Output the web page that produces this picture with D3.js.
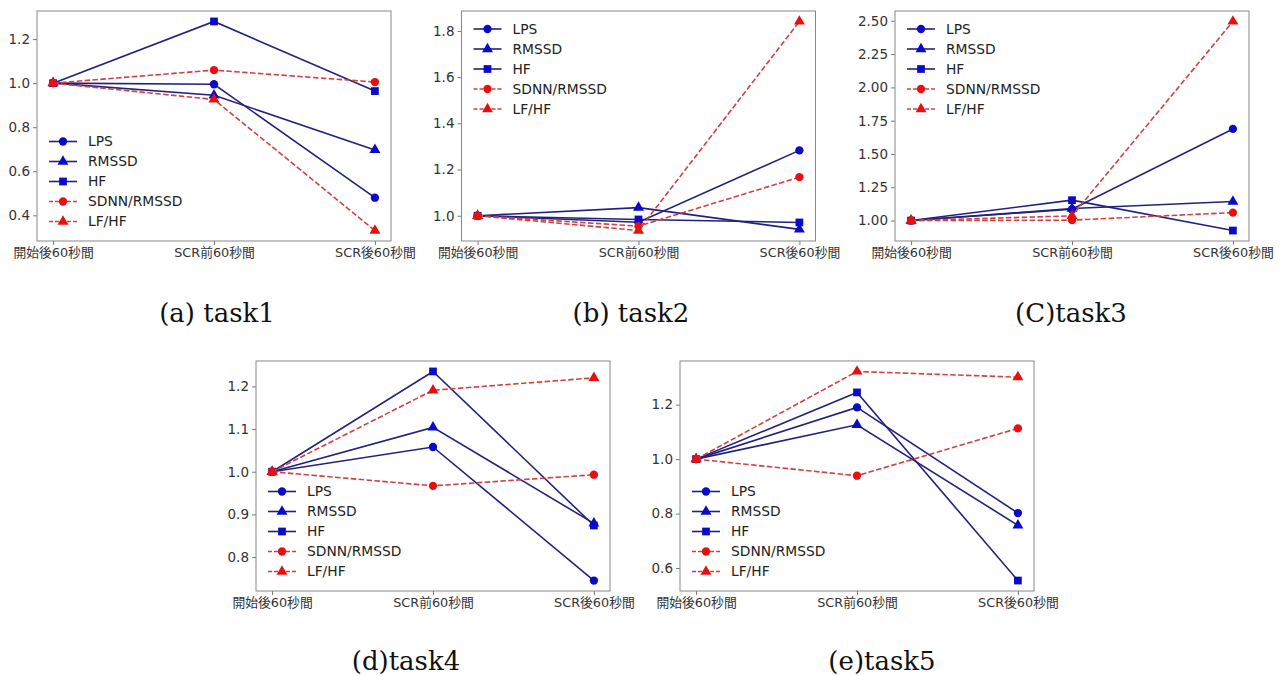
<!DOCTYPE html>
<html>
<head>
<meta charset="utf-8">
<script src="https://cdn.jsdelivr.net/npm/d3@7"></script>
<style>
body { margin: 0; background: #fff; }
</style>
</head>
<body>
<div id="chart"></div>
<script>
var categories = ['開始後60秒間', 'SCR前60秒間', 'SCR後60秒間'];
var seriesNames = ['LPS', 'RMSSD', 'HF', 'SDNN/RMSSD', 'LF/HF'];

// one row per series, same order as seriesNames
var task1 = [
	[1.0, 0.995, 0.48],
	[1.0, 0.945, 0.697],
	[1.0, 1.28, 0.964],
	[1.0, 1.059, 1.005],
	[1.0, 0.926, 0.331]
];
var task2 = [
	[1.0, 0.972, 1.283],
	[1.0, 1.035, 0.941],
	[1.0, 0.984, 0.971],
	[1.0, 0.955, 1.167],
	[1.0, 0.936, 1.841]
];
var task3 = [
	[1.0, 1.085, 1.688],
	[1.0, 1.09, 1.143],
	[1.0, 1.153, 0.925],
	[1.0, 1.003, 1.06],
	[1.0, 1.035, 2.495]
];
var task4 = [
	[1.0, 1.058, 0.745],
	[1.0, 1.104, 0.879],
	[1.0, 1.235, 0.874],
	[1.0, 0.967, 0.993],
	[1.0, 1.191, 1.22]
];
var task5 = [
	[1.0, 1.19, 0.802],
	[1.0, 1.126, 0.757],
	[1.0, 1.245, 0.554],
	[1.0, 0.939, 1.113],
	[1.0, 1.322, 1.301]
];

var task1Ticks = [0.4, 0.6, 0.8, 1.0, 1.2];
var task2Ticks = [1.0, 1.2, 1.4, 1.6, 1.8];
var task3Ticks = [1.0, 1.25, 1.5, 1.75, 2.0, 2.25, 2.5];
var task4Ticks = [0.8, 0.9, 1.0, 1.1, 1.2];
var task5Ticks = [0.6, 0.8, 1.0, 1.2];

var captions = ['(a) task1', '(b) task2', '(C)task3', '(d)task4', '(e)task5'];

var blueLine = '#22227e';
var blueMark = '#0a0ac8';
var redLine = '#d24040';
var redMark = '#e80f0f';

var styles = [
	{line: blueLine, mark: blueMark, shape: d3.symbolCircle, dash: null},
	{line: blueLine, mark: blueMark, shape: d3.symbolTriangle, dash: null},
	{line: blueLine, mark: blueMark, shape: d3.symbolSquare, dash: null},
	{line: redLine, mark: redMark, shape: d3.symbolCircle, dash: '5.5,2.4'},
	{line: redLine, mark: redMark, shape: d3.symbolTriangle, dash: '5.5,2.4'}
];

var panels = [
	{data: task1, ticks: task1Ticks, fmt: '.1f', left: 37, top: 11, legend: 'lower', cx: 217, cy: 313},
	{data: task2, ticks: task2Ticks, fmt: '.1f', left: 461.5, top: 11, legend: 'upper', cx: 631, cy: 313},
	{data: task3, ticks: task3Ticks, fmt: '.2f', left: 895, top: 11, legend: 'upper', cx: 1071, cy: 313},
	{data: task4, ticks: task4Ticks, fmt: '.1f', left: 256, top: 361, legend: 'lower', cx: 406, cy: 661},
	{data: task5, ticks: task5Ticks, fmt: '.1f', left: 680, top: 361, legend: 'lower', cx: 882, cy: 661}
];

var W = 354;
var H = 230;

var svg = d3.select('#chart')
	.append('svg')
	.attr('width', 1287)
	.attr('height', 675)
	.style('background', '#fff');

function symbolSize(shape) {
	if (shape === d3.symbolSquare) return 60;
	if (shape === d3.symbolTriangle) return 52;
	return 54;
}

function drawPanel(p, idx) {
	var g = svg.append('g').attr('transform', 'translate(' + p.left + ',' + p.top + ')');

	// matplotlib style 5% margins
	var all = d3.merge(p.data);
	var ext = d3.extent(all);
	var pad = (ext[1] - ext[0]) * 0.05;

	var x = d3.scaleLinear().domain([-0.1, 2.1]).range([0, W]);
	var y = d3.scaleLinear().domain([ext[0] - pad, ext[1] + pad]).range([H, 0]);

	var yAxis = g.append('g')
		.call(d3.axisLeft(y).tickValues(p.ticks).tickFormat(d3.format(p.fmt)).tickSize(4).tickPadding(3));
	var xAxis = g.append('g')
		.attr('transform', 'translate(0,' + H + ')')
		.call(d3.axisBottom(x).tickValues([0, 1, 2]).tickFormat(function (d) { return categories[d]; }).tickSize(4).tickPadding(3));

	[yAxis, xAxis].forEach(function (a) {
		a.select('.domain').remove();
		a.selectAll('line').attr('stroke', '#777');
		a.selectAll('text')
			.attr('fill', '#333')
			.style('font-family', 'DejaVu Sans, "Noto Sans CJK JP", sans-serif');
	});
	yAxis.selectAll('text').style('font-size', '13.5px');
	xAxis.selectAll('text').style('font-size', '12.8px');

	var line = d3.line()
		.x(function (d, i) { return x(i); })
		.y(function (d) { return y(d); });

	p.data.forEach(function (values, s) {
		var st = styles[s];
		g.append('path')
			.attr('d', line(values))
			.attr('fill', 'none')
			.attr('stroke', st.line)
			.attr('stroke-width', 1.6)
			.attr('stroke-dasharray', st.dash);

		g.selectAll(null)
			.data(values)
			.enter()
			.append('path')
			.attr('d', d3.symbol().type(st.shape).size(symbolSize(st.shape)))
			.attr('transform', function (d, i) { return 'translate(' + x(i) + ',' + y(d) + ')'; })
			.attr('fill', st.mark);
	});

	// frame
	g.append('rect')
		.attr('width', W)
		.attr('height', H)
		.attr('fill', 'none')
		.attr('stroke', '#888')
		.attr('stroke-width', 1);

	// legend
	var rowH = 20;
	var firstRow = p.legend === 'upper' ? 18 : H - 19.5 - rowH * 4;
	seriesNames.forEach(function (name, s) {
		var st = styles[s];
		var ry = firstRow + s * rowH;
		g.append('line')
			.attr('x1', 12).attr('x2', 40)
			.attr('y1', ry).attr('y2', ry)
			.attr('stroke', st.line)
			.attr('stroke-width', 1.6)
			.attr('stroke-dasharray', st.dash ? '4,2' : null);
		g.append('path')
			.attr('d', d3.symbol().type(st.shape).size(symbolSize(st.shape)))
			.attr('transform', 'translate(26,' + ry + ')')
			.attr('fill', st.mark);
		g.append('text')
			.attr('x', 51)
			.attr('y', ry)
			.attr('dy', '0.35em')
			.attr('fill', '#222')
			.style('font-family', 'DejaVu Sans, sans-serif')
			.style('font-size', '13.8px')
			.text(name);
	});

	svg.append('text')
		.attr('x', p.cx)
		.attr('y', p.cy)
		.attr('dy', '0.35em')
		.attr('text-anchor', 'middle')
		.attr('fill', '#111')
		.style('font-family', '"DejaVu Serif", serif')
		.style('font-size', '26px')
		.text(captions[idx]);
}

panels.forEach(drawPanel);
</script>
</body>
</html>
